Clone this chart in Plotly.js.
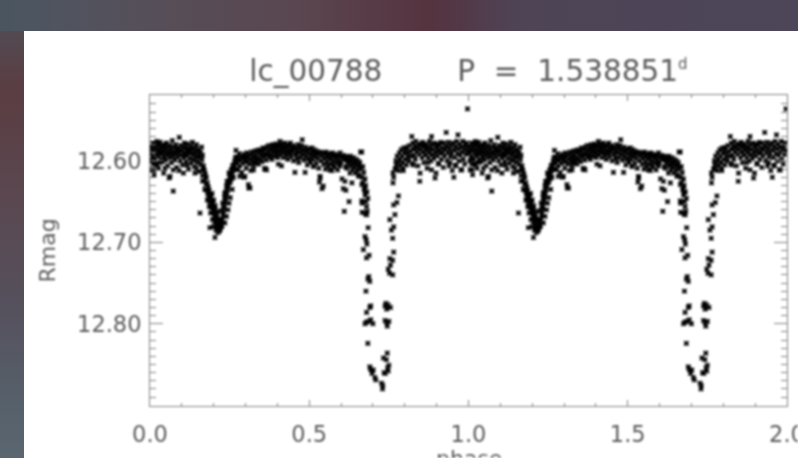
<!DOCTYPE html>
<html><head><meta charset="utf-8">
<script src="https://cdn.plot.ly/plotly-3.0.1.min.js"></script>
<style>
html,body{margin:0;padding:0;width:798px;height:458px;overflow:hidden;background:#4e4c58}
#bgTop{position:absolute;left:0;top:0;width:798px;height:31px;background:linear-gradient(90deg,#4a5560 0,#4e5560 40px,#55505a 130px,#5a4650 300px,#55333f 430px,#4e4456 520px,#4c4658 798px)}
#bgLeft{position:absolute;left:0;top:31px;width:24px;height:427px;background:linear-gradient(180deg,#534a52 0,#5a3d42 60px,#5a4850 170px,#55505c 270px,#56606a 370px,#5a6670 427px)}
#panel{position:absolute;left:23.5px;top:30.5px;width:775px;height:428px;background:#fff}
#chart{position:absolute;left:0;top:0;width:798px;height:458px;filter:blur(0.8px)}
</style></head><body>
<div id="bgTop"></div><div id="bgLeft"></div><div id="panel"></div><div id="chart"></div>
<script>
const plateauA=[[.002,12.582],[.003,12.590],[.004,12.600],[.005,12.611],[.006,12.585],[.008,12.595],[.009,12.578],[.010,12.604],[.012,12.588],[.013,12.617],[.015,12.583],[.016,12.597],[.018,12.579],[.019,12.591],[.021,12.603],[.022,12.576],[.024,12.586],[.025,12.594],[.027,12.609],[.028,12.581],[.030,12.589],[.032,12.577],[.033,12.598],[.035,12.584],[.036,12.592],[.038,12.601],[.040,12.580],[.041,12.587],[.043,12.615],[.044,12.595],[.046,12.582],[.047,12.590],[.049,12.599],[.051,12.585],[.052,12.578],[.054,12.593],[.055,12.606],[.057,12.583],[.059,12.588],[.060,12.621],[.062,12.596],[.063,12.581],[.065,12.591],[.067,12.602],[.068,12.586],[.070,12.575],[.072,12.594],[.073,12.637],[.074,12.589],[.076,12.583],[.078,12.599],[.079,12.592],[.081,12.580],[.083,12.587],[.084,12.608],[.086,12.595],[.087,12.584],[.089,12.590],[.091,12.612],[.092,12.571],[.094,12.586],[.095,12.600],[.097,12.581],[.099,12.593],[.100,12.588],[.102,12.605],[.104,12.583],[.105,12.596],[.107,12.590],[.108,12.578],[.110,12.592],[.112,12.584],[.113,12.601],[.115,12.587],[.116,12.594],[.118,12.579],[.120,12.590],[.121,12.610],[.123,12.585],[.124,12.597],[.126,12.588],[.128,12.582],[.129,12.603],[.131,12.591],[.133,12.577],[.134,12.586],[.136,12.598],[.137,12.593],[.139,12.607],[.141,12.584],[.142,12.589],[.144,12.600],[.146,12.580],[.147,12.595],[.149,12.587],[.150,12.602],[.152,12.592],[.154,12.613],[.155,12.586],[.157,12.664],[.157,12.596],[.159,12.590],[.160,12.604],[.162,12.583],[.163,12.598],[.165,12.593],[.166,12.609]];
const secondaryDip=[[.168,12.606],[.171,12.612],[.165,12.618],[.174,12.616],[.172,12.624],[.177,12.620],[.176,12.629],[.180,12.627],[.178,12.636],[.183,12.632],[.181,12.640],[.186,12.636],[.184,12.644],[.189,12.641],[.187,12.649],[.192,12.644],[.190,12.654],[.195,12.649],[.193,12.657],[.198,12.652],[.196,12.661],[.201,12.656],[.199,12.664],[.204,12.660],[.202,12.668],[.207,12.664],[.205,12.672],[.210,12.668],[.203,12.675],[.213,12.671],[.207,12.678],[.216,12.674],[.209,12.682],[.219,12.678],[.212,12.684],[.222,12.672],[.213,12.688],[.204,12.694],[.207,12.685],[.216,12.680],[.220,12.684],[.224,12.676],[.218,12.686],[.223,12.681],[.188,12.682],[.227,12.672],[.226,12.680],[.229,12.668],[.231,12.664],[.228,12.660],[.233,12.658],[.235,12.651],[.232,12.655],[.237,12.648],[.234,12.645],[.239,12.644],[.241,12.640],[.238,12.638],[.243,12.636],[.245,12.632],[.240,12.631],[.247,12.628],[.244,12.626],[.249,12.624],[.252,12.626],[.250,12.620],[.254,12.618],[.256,12.622],[.251,12.615],[.258,12.616],[.260,12.612],[.255,12.611],[.262,12.609],[.264,12.604],[.259,12.606],[.266,12.600],[.268,12.596],[.270,12.587]];
const dipScatter=[[.165,12.625],[.172,12.635],[.180,12.648],[.186,12.656],[.190,12.664],[.196,12.672],[.198,12.681],[.262,12.620],[.258,12.635],[.252,12.645],[.248,12.652],[.245,12.660],[.240,12.668],[.235,12.676],[.195,12.640],[.200,12.648],[.205,12.655],[.212,12.662],[.222,12.662],[.228,12.652],[.234,12.640],[.242,12.625],[.248,12.615]];
const plateauB=[[.272,12.603],[.274,12.595],[.276,12.610],[.278,12.598],[.280,12.591],[.282,12.606],[.284,12.600],[.286,12.594],[.288,12.614],[.290,12.597],[.292,12.603],[.295,12.620],[.296,12.592],[.298,12.600],[.300,12.596],[.302,12.609],[.304,12.590],[.306,12.601],[.308,12.595],[.310,12.633],[.311,12.604],[.313,12.592],[.315,12.598],[.317,12.612],[.319,12.589],[.321,12.601],[.323,12.594],[.325,12.606],[.327,12.597],[.329,12.588],[.331,12.603],[.333,12.593],[.335,12.599],[.337,12.587],[.339,12.596],[.341,12.604],[.343,12.590],[.345,12.586],[.347,12.598],[.349,12.593],[.351,12.601],[.353,12.588],[.355,12.584],[.357,12.595],[.360,12.610],[.361,12.591],[.363,12.586],[.365,12.599],[.367,12.583],[.369,12.593],[.371,12.589],[.373,12.581],[.375,12.596],[.377,12.587],[.379,12.592],[.381,12.584],[.383,12.598],[.385,12.580],[.387,12.589],[.389,12.594],[.391,12.583],[.393,12.587],[.395,12.579],[.397,12.591],[.399,12.585],[.401,12.596],[.403,12.581],[.405,12.588],[.408,12.576],[.409,12.593],[.411,12.584],[.413,12.580],[.415,12.590],[.417,12.586],[.419,12.596],[.421,12.582],[.423,12.578],[.425,12.589],[.427,12.593],[.429,12.584],[.431,12.580],[.433,12.598],[.435,12.587],[.437,12.582],[.439,12.591],[.441,12.578],[.443,12.595],[.445,12.585],[.447,12.589],[.449,12.581],[.451,12.600],[.453,12.586],[.455,12.614],[.457,12.592],[.459,12.583],[.461,12.597],[.463,12.588],[.465,12.580],[.467,12.602],[.469,12.590],[.471,12.585],[.473,12.596],[.475,12.581],[.478,12.574],[.480,12.592],[.482,12.587],[.484,12.599],[.487,12.614],[.488,12.583],[.490,12.594],[.492,12.589],[.494,12.605],[.496,12.585],[.498,12.597],[.500,12.591],[.502,12.586],[.504,12.601],[.506,12.593],[.508,12.584],[.510,12.598],[.512,12.589],[.514,12.607],[.516,12.586],[.518,12.595],[.520,12.591],[.522,12.603],[.524,12.588],[.526,12.597],[.528,12.592],[.530,12.609],[.534,12.621],[.535,12.589],[.538,12.600],[.540,12.634],[.541,12.594],[.543,12.590],[.545,12.604],[.547,12.597],[.549,12.592],[.551,12.610],[.553,12.589],[.555,12.601],[.557,12.595],[.559,12.606],[.561,12.591],[.563,12.598],[.565,12.592],[.567,12.604],[.569,12.594],[.571,12.612],[.573,12.590],[.575,12.600],[.577,12.595],[.579,12.608],[.581,12.592],[.583,12.602],[.585,12.597],[.587,12.593],[.589,12.611],[.591,12.599],[.593,12.594],[.595,12.604],[.597,12.590],[.599,12.601],[.601,12.596],[.603,12.622],[.605,12.593],[.607,12.634],[.609,12.598],[.610,12.662],[.612,12.594],[.614,12.607],[.615,12.636],[.616,12.599],[.618,12.595],[.621,12.603],[.623,12.597],[.625,12.650],[.627,12.601],[.629,12.594],[.631,12.606],[.633,12.598],[.635,12.612],[.637,12.603],[.639,12.596],[.641,12.608],[.643,12.601],[.645,12.615],[.647,12.598],[.649,12.605],[.651,12.611],[.653,12.600],[.655,12.617],[.657,12.606],[.659,12.602],[.661,12.589],[.663,12.610],[.665,12.589],[.666,12.620],[.668,12.607],[.669,12.627],[.671,12.614],[.672,12.635],[.674,12.664],[.675,12.622],[.676,12.642],[.677,12.630],[.678,12.650],[.679,12.666],[.680,12.656],[.681,12.638],[.682,12.662],[.685,12.682],[.684,12.646]];
const plateauLow=[[.011,12.611],[.021,12.605],[.063,12.619],[.073,12.611],[.105,12.615],[.115,12.605],[.141,12.615],[.146,12.609],[.167,12.611],[.272,12.611],[.282,12.619],[.298,12.619],[.309,12.629],[.314,12.633],[.325,12.611],[.361,12.609],[.366,12.611],[.403,12.604],[.413,12.606],[.502,12.602],[.513,12.606],[.534,12.619],[.532,12.626],[.544,12.631],[.565,12.611],[.576,12.605],[.597,12.606],[.618,12.609],[.628,12.615],[.612,12.625],[.634,12.627],[.655,12.619],[.665,12.629],[.675,12.639],[.665,12.649],[.675,12.635],[.666,12.652],[.666,12.663],[.680,12.666],[.795,12.609],[.827,12.605],[.873,12.602],[.884,12.611],[.905,12.604],[.942,12.602],[.958,12.606],[.979,12.611],[.010,12.598],[.031,12.602],[.047,12.609]];
const primaryDip=[[.675,12.693],[.679,12.697],[.681,12.702],[.670,12.709],[.680,12.719],[.688,12.716],[.684,12.745],[.690,12.748],[.687,12.742],[.678,12.760],[.690,12.780],[.693,12.778],[.680,12.786],[.675,12.800],[.680,12.798],[.687,12.797],[.700,12.800],[.693,12.795],[.684,12.824],[.690,12.853],[.693,12.856],[.701,12.857],[.697,12.861],[.706,12.866],[.709,12.869],[.727,12.873],[.730,12.880],[.731,12.876],[.735,12.860],[.739,12.861],[.748,12.858],[.750,12.851],[.746,12.854],[.742,12.844],[.745,12.836],[.733,12.842],[.738,12.796],[.743,12.799],[.750,12.797],[.745,12.803],[.738,12.778],[.741,12.775],[.748,12.777],[.755,12.780],[.743,12.782],[.765,12.712],[.753,12.720],[.762,12.722],[.748,12.733],[.752,12.738],[.762,12.740],[.755,12.728],[.758,12.685],[.762,12.695],[.753,12.672],[.765,12.681],[.769,12.666],[.765,12.654],[.775,12.651],[.780,12.643],[.763,12.627],[.765,12.620],[.763,12.615],[.769,12.610],[.773,12.605]];
const plateauC=[[.772,12.600],[.774,12.609],[.776,12.594],[.779,12.603],[.781,12.612],[.783,12.590],[.785,12.598],[.787,12.606],[.789,12.586],[.791,12.594],[.793,12.602],[.795,12.612],[.797,12.584],[.799,12.591],[.801,12.598],[.803,12.587],[.805,12.605],[.807,12.583],[.809,12.595],[.811,12.590],[.813,12.600],[.815,12.581],[.817,12.588],[.819,12.594],[.822,12.570],[.823,12.603],[.825,12.578],[.827,12.586],[.829,12.593],[.831,12.582],[.833,12.598],[.835,12.576],[.837,12.589],[.839,12.584],[.841,12.606],[.843,12.579],[.845,12.592],[.847,12.625],[.848,12.615],[.850,12.586],[.852,12.581],[.854,12.596],[.856,12.577],[.858,12.589],[.860,12.602],[.862,12.583],[.864,12.593],[.866,12.579],[.868,12.587],[.870,12.609],[.872,12.582],[.874,12.596],[.876,12.590],[.878,12.576],[.880,12.585],[.882,12.600],[.884,12.570],[.885,12.580],[.887,12.592],[.889,12.586],[.891,12.597],[.893,12.578],[.895,12.621],[.896,12.589],[.898,12.615],[.899,12.583],[.901,12.594],[.903,12.579],[.905,12.587],[.907,12.603],[.909,12.581],[.911,12.591],[.913,12.577],[.915,12.598],[.917,12.584],[.919,12.589],[.921,12.608],[.923,12.578],[.925,12.594],[.927,12.586],[.930,12.565],[.931,12.582],[.933,12.600],[.935,12.590],[.937,12.577],[.939,12.606],[.941,12.585],[.943,12.595],[.945,12.580],[.947,12.590],[.949,12.612],[.951,12.578],[.954,12.620],[.955,12.587],[.957,12.596],[.959,12.582],[.961,12.605],[.963,12.576],[.965,12.591],[.967,12.568],[.968,12.585],[.970,12.600],[.972,12.579],[.974,12.593],[.976,12.611],[.978,12.583],[.980,12.589],[.982,12.576],[.984,12.598],[.986,12.586],[.988,12.604],[.990,12.581],[.992,12.592],[.994,12.578],[.997,12.536],[.998,12.587]];
const yTickValues=[12.6,12.7,12.8];
const yTickLabels=['12.60','12.70','12.80'];
const xTickValues=[0,0.5,1,1.5,2];
const xTickLabels=['0.0','0.5','1.0','1.5','2.0'];
const objectName='lc_00788';
const periodLabel='P\u00a0\u00a0=\u00a0\u00a01.538851<sup><span style="font-size:15px">d</span></sup>';

const cycle=[...plateauA,...secondaryDip,...dipScatter,...plateauB,...plateauLow,...primaryDip,...plateauC];
// The plot folds the light curve twice: the same measurements at phase and phase+1
const xs=[...cycle.map(p=>p[0]),...cycle.map(p=>p[0]+1)];
const ys=[...cycle.map(p=>p[1]),...cycle.map(p=>p[1])];
const ink='#5a5a5a', line='#808080';
const NB='\u00a0';
const fam='"DejaVu Sans",sans-serif';
Plotly.newPlot('chart',[{type:'scatter',mode:'markers',x:xs,y:ys,cliponaxis:true,
  marker:{symbol:'x',size:5,color:'#000',line:{width:0}}}],{
  width:798,height:458,showlegend:false,
  margin:{l:150,r:11,t:95,b:52,pad:0},
  paper_bgcolor:'rgba(0,0,0,0)',plot_bgcolor:'rgba(0,0,0,0)',
  font:{family:fam,color:ink},
  title:{text:objectName+NB.repeat(8)+periodLabel,x:0.587,xanchor:'center',y:0.845,yanchor:'middle',font:{size:29.5,color:ink,family:fam}},
  annotations:[
    {text:'phase',xref:'paper',yref:'paper',x:0.5,y:-52.5/311,xanchor:'center',yanchor:'middle',showarrow:false,font:{size:22,color:ink,family:fam}},
    {text:'Rmag',xref:'paper',yref:'paper',x:-103/637,y:0.5,xanchor:'center',yanchor:'middle',textangle:-90,showarrow:false,font:{size:22,color:ink,family:fam}}
  ],
  xaxis:{range:[0,2],tickmode:'array',tickvals:xTickValues,ticktext:xTickLabels,ticks:'inside',ticklen:6,tickcolor:line,tickwidth:1,
    showline:true,linecolor:line,linewidth:1,mirror:'ticks',showgrid:false,zeroline:false,
    tickfont:{size:22.5,color:ink,family:fam},ticklabelstandoff:8,ticklabeloverflow:'allow',
    minor:{tickmode:'linear',tick0:0,dtick:0.1,ticks:'inside',ticklen:3,tickcolor:line,tickwidth:1,showgrid:false},automargin:false},
  yaxis:{range:[12.901,12.519],tickmode:'array',tickvals:yTickValues,ticktext:yTickLabels,ticks:'inside',ticklen:13,tickcolor:line,tickwidth:1,
    showline:true,linecolor:line,linewidth:1,mirror:'ticks',showgrid:false,zeroline:false,
    tickfont:{size:22.5,color:ink,family:fam},ticklabelstandoff:3,
    minor:{tickmode:'linear',tick0:12.5,dtick:0.01,ticks:'inside',ticklen:6,tickcolor:line,tickwidth:1,showgrid:false},automargin:false}
},{displayModeBar:false,staticPlot:true});
</script></body></html>
